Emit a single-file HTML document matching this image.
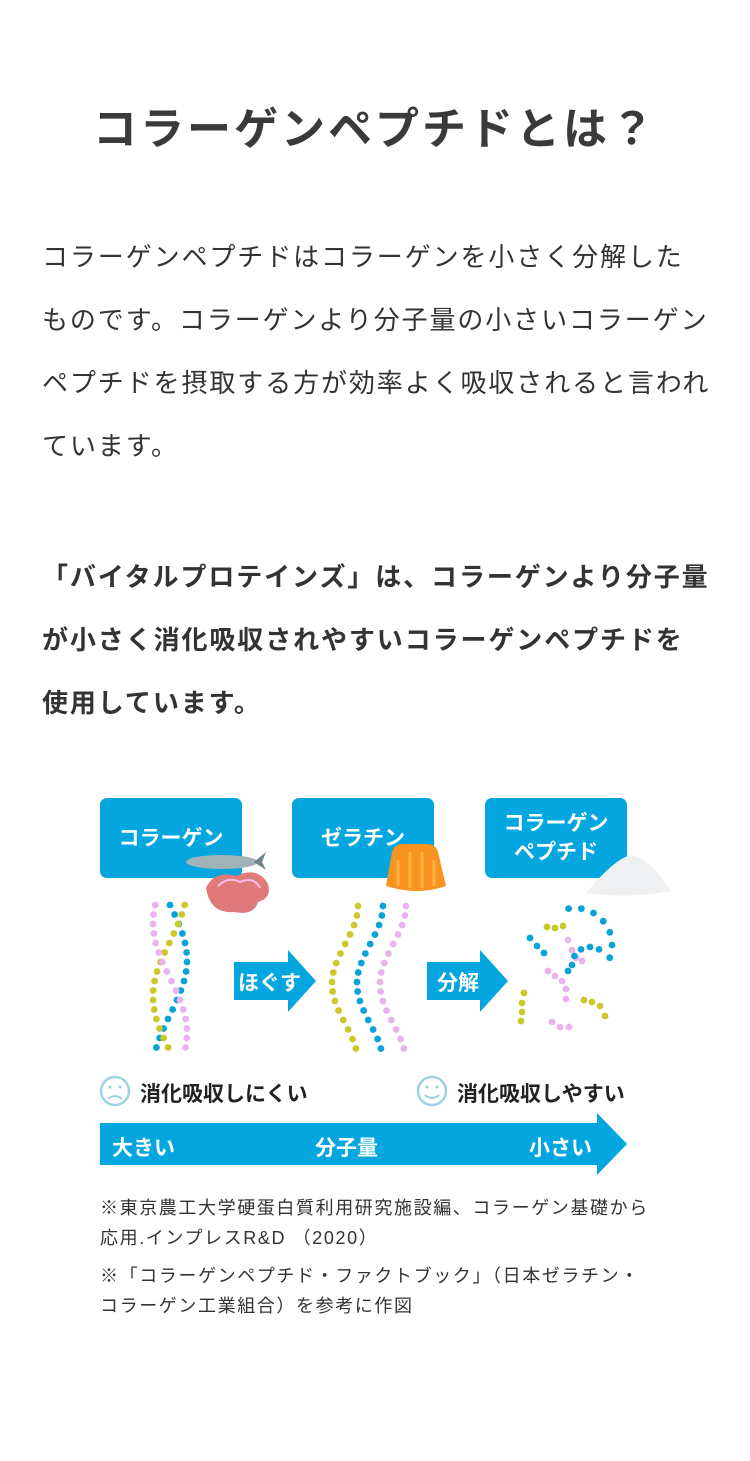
<!DOCTYPE html>
<html><head><meta charset="utf-8"><style>
body{margin:0;width:750px;height:1461px;background:#fff;font-family:"Liberation Sans","Noto Sans CJK JP",sans-serif;color:#333;position:relative;overflow:hidden}
.t{position:absolute;left:0;width:750px;top:98px;text-align:center;font-size:44px;font-weight:bold;letter-spacing:3px;color:#3a3a3a;line-height:64px}
.p{position:absolute;left:42px;font-size:26px;letter-spacing:1.9px;line-height:63px;white-space:nowrap}
.box{position:absolute;top:798px;width:142px;height:80px;background:#03a6de;border-radius:7px;color:#fff;font-weight:bold;font-size:21px;display:flex;align-items:center;justify-content:center;text-align:center;line-height:29px}
.lbl{position:absolute;color:#fff;font-weight:bold;font-size:21px}
.fn{position:absolute;left:100px;font-size:18px;letter-spacing:1.6px;line-height:30px;white-space:nowrap;color:#333}
.face{position:absolute;font-weight:bold;font-size:21px;color:#222}
</style></head><body>
<div class="t">コラーゲンペプチドとは？</div>
<div class="p" style="top:226px">コラーゲンペプチドはコラーゲンを小さく分解した<br>ものです。コラーゲンより分子量の小さいコラーゲン<br>ペプチドを摂取する方が効率よく吸収されると言われ<br>ています。</div>
<div class="p" style="top:546px;font-weight:bold">「バイタルプロテインズ」は、コラーゲンより分子量<br>が小さく消化吸収されやすいコラーゲンペプチドを<br>使用しています。</div>

<div class="box" style="left:100px">コラーゲン</div>
<div class="box" style="left:292px">ゼラチン</div>
<div class="box" style="left:485px">コラーゲン<br>ペプチド</div>

<svg style="position:absolute;left:0;top:0" width="750" height="1461" id="sv">
<ellipse cx="222" cy="862" rx="36" ry="7" fill="#9fb3b8"/>
<polygon points="254,862 266,852 262,862 266,870" fill="#6d8288"/>
<path d="M206,888 q8,-18 30,-12 q22,-10 32,8 q4,14 -10,18 q-4,14 -24,10 q-24,2 -28,-24z" fill="#e07a7a"/>
<path d="M218,886 q10,-10 22,-4 q14,-6 20,6" stroke="#fbe" stroke-width="2" fill="none"/>
<path d="M392,852 q2,-8 12,-8 h22 q10,0 12,8 l8,34 q-28,10 -60,0z" fill="#f7931e"/>
<path d="M398,860 v26 M410,852 v36 M422,852 v36 M434,860 v26" stroke="#ffb347" stroke-width="3"/>
<path d="M586,893 q30,-36 46,-38 q22,6 38,36 q-40,8 -84,2z" fill="#eef0f2"/>
<polygon points="234,962 288,962 288,950 316,981 288,1012 288,1000 234,1000" fill="#03a6de"/>
<polygon points="427,962 480,962 480,950 508,981 480,1012 480,1000 427,1000" fill="#03a6de"/>
<polygon points="100,1123 597,1123 597,1113 627,1144 597,1175 597,1165 100,1165" fill="#03a6de"/>
<circle cx="115" cy="1091" r="14" fill="none" stroke="#9dd3e3" stroke-width="2.5"/>
<circle cx="110" cy="1087" r="1.6" fill="#9dd3e3"/><circle cx="120" cy="1087" r="1.6" fill="#9dd3e3"/>
<path d="M108,1099 q7,-6 14,0" stroke="#9dd3e3" stroke-width="2" fill="none"/>
<circle cx="432" cy="1091" r="14" fill="none" stroke="#9dd3e3" stroke-width="2.5"/>
<circle cx="427" cy="1087" r="1.6" fill="#9dd3e3"/><circle cx="437" cy="1087" r="1.6" fill="#9dd3e3"/>
<path d="M425,1095 q7,6 14,0" stroke="#9dd3e3" stroke-width="2" fill="none"/>
<g id="dots"></g>
</svg>
<div class="lbl" style="left:238px;top:967px">ほぐす</div>
<div class="lbl" style="left:437px;top:967px">分解</div>
<div class="face" style="left:140px;top:1078px">消化吸収しにくい</div>
<div class="face" style="left:457px;top:1078px">消化吸収しやすい</div>
<div class="lbl" style="left:112px;top:1132px">大きい</div>
<div class="lbl" style="left:315px;top:1132px">分子量</div>
<div class="lbl" style="left:529px;top:1132px">小さい</div>
<div class="fn" style="top:1193px">※東京農工大学硬蛋白質利用研究施設編、コラーゲン基礎から<br>応用.インプレスR&amp;D （2020）</div>
<div class="fn" style="top:1261px">※「コラーゲンペプチド・ファクトブック」（日本ゼラチン・<br>コラーゲン工業組合）を参考に作図</div>
<script>
var g=document.getElementById('dots'),s='';
var C={b:'#08a3d9',y:'#c9c92a',p:'#eab3f0'};
function d(x,y,c){s+='<circle cx="'+x.toFixed(1)+'" cy="'+y.toFixed(1)+'" r="3.4" fill="'+C[c]+'"/>';}
var cols=['b','y','p'];
for(var i=0;i<3;i++){for(var y=905;y<=1055;y+=9.5){d(170+17*Math.sin((y-905)/35+i*2.1),y,cols[i]);}}
var cx=[345,370,393],cc=['y','b','p'];
for(var i=0;i<3;i++){for(var y=906;y<=1055;y+=9.5){d(cx[i]+13*Math.cos((y-905)/150*2*Math.PI*0.95),y,cc[i]);}}
function arc(x0,y0,r,a0,a1,n,c){for(var k=0;k<n;k++){var a=(a0+(a1-a0)*k/(n-1))*Math.PI/180;d(x0+r*Math.cos(a),y0+r*Math.sin(a),c);}}
arc(575,945,37,-100,20,7,'b');
[[530,938],[537,946],[544,953]].forEach(function(p){d(p[0],p[1],'b')});
[[547,927],[555,928],[563,926]].forEach(function(p){d(p[0],p[1],'y')});
[[568,940],[572,950],[576,958],[582,961]].forEach(function(p){d(p[0],p[1],'p')});
arc(590,965,18,180,300,5,'b');d(568,971,'b');
[[548,971],[555,976],[562,981],[566,989],[566,999]].forEach(function(p){d(p[0],p[1],'p')});
[[524,993],[522,1003],[522,1012],[521,1021]].forEach(function(p){d(p[0],p[1],'y')});
[[584,1000],[592,1002],[600,1006],[605,1016]].forEach(function(p){d(p[0],p[1],'y')});
[[552,1022],[560,1027],[569,1027]].forEach(function(p){d(p[0],p[1],'p')});
g.innerHTML=s;
</script>
</body></html>
